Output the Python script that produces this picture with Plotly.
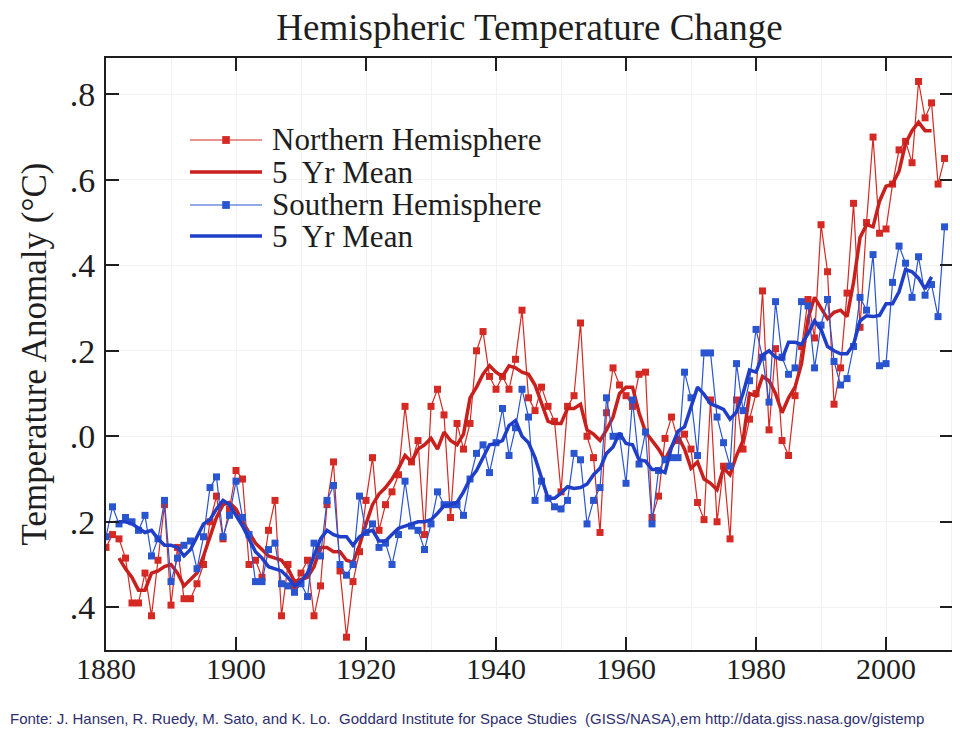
import plotly.graph_objects as go

# ---------------- data ----------------
years = list(range(1880, 2010))

nh_annual = [
    -0.26, -0.23, -0.24, -0.285, -0.39, -0.39, -0.32, -0.42, -0.29, -0.16,      # 1880s
    -0.395, -0.26, -0.38, -0.38, -0.345, -0.30, -0.20, -0.14, -0.24, -0.17,     # 1890s
    -0.08, -0.10, -0.30, -0.29, -0.33, -0.22, -0.15, -0.42, -0.30, -0.35,       # 1900s
    -0.32, -0.29, -0.42, -0.35, -0.16, -0.06, -0.315, -0.47, -0.34, -0.27,      # 1910s
    -0.15, -0.05, -0.22, -0.16, -0.13, -0.09, 0.07, -0.06, -0.01, -0.23,        # 1920s
    0.07, 0.11, 0.05, -0.19, 0.03, -0.03, 0.03, 0.20, 0.245, 0.14,              # 1930s
    0.11, 0.14, 0.11, 0.18, 0.295, 0.09, 0.06, 0.115, 0.07, 0.035,              # 1940s
    -0.13, 0.07, 0.095, 0.265, 0.0, -0.05, -0.225, 0.055, 0.16, 0.12,           # 1950s
    0.095, 0.07, 0.145, 0.15, -0.19, -0.14, -0.005, 0.045, -0.01, 0.005,        # 1960s
    -0.03, -0.155, -0.195, 0.085, -0.20, -0.07, -0.24, 0.085, -0.03, 0.04,      # 1970s
    0.10, 0.34, 0.015, 0.205, -0.01, -0.045, 0.095, 0.21, 0.32, 0.23,           # 1980s
    0.495, 0.385, 0.075, 0.16, 0.335, 0.545, 0.255, 0.50, 0.70, 0.475,          # 1990s
    0.485, 0.59, 0.67, 0.69, 0.64, 0.83, 0.745, 0.78, 0.59, 0.65,               # 2000s
]

sh_annual = [
    -0.235, -0.165, -0.205, -0.19, -0.20, -0.22, -0.185, -0.28, -0.24, -0.15,   # 1880s
    -0.34, -0.285, -0.255, -0.245, -0.31, -0.235, -0.12, -0.095, -0.235, -0.185,# 1890s
    -0.105, -0.19, -0.23, -0.34, -0.34, -0.265, -0.25, -0.345, -0.35, -0.365,   # 1900s
    -0.345, -0.375, -0.25, -0.28, -0.15, -0.115, -0.30, -0.325, -0.30, -0.14,   # 1910s
    -0.225, -0.205, -0.26, -0.25, -0.30, -0.23, -0.105, -0.21, -0.22, -0.265,   # 1920s
    -0.205, -0.13, -0.16, -0.16, -0.16, -0.185, -0.10, -0.04, -0.02, -0.085,    # 1930s
    -0.015, 0.065, -0.045, 0.02, 0.11, 0.045, -0.15, -0.105, -0.145, -0.165,    # 1940s
    -0.17, -0.15, -0.04, -0.055, -0.205, -0.15, -0.12, 0.09, 0.0, 0.0,          # 1950s
    -0.11, 0.085, -0.065, 0.01, -0.205, -0.08, -0.055, -0.05, -0.05, 0.15,      # 1960s
    0.09, -0.045, 0.195, 0.195, 0.045, -0.015, -0.07, 0.17, 0.06, 0.13,         # 1970s
    0.25, 0.185, 0.08, 0.315, 0.185, 0.145, 0.16, 0.315, 0.305, 0.16,           # 1980s
    0.26, 0.32, 0.175, 0.12, 0.135, 0.21, 0.325, 0.295, 0.425, 0.165,           # 1990s
    0.17, 0.36, 0.445, 0.405, 0.325, 0.42, 0.33, 0.355, 0.28, 0.49,             # 2000s
]

mean_years = list(range(1882, 2008))

nh_mean5 = [
    -0.285, -0.31, -0.33, -0.36, -0.36, -0.32, -0.315, -0.305,                  # 1882-1889
    -0.30, -0.32, -0.35, -0.335, -0.32, -0.28, -0.235, -0.19, -0.16, -0.155,    # 1890s
    -0.17, -0.20, -0.225, -0.25, -0.265, -0.28, -0.285, -0.29, -0.31, -0.34,    # 1900s
    -0.335, -0.33, -0.305, -0.26, -0.26, -0.27, -0.27, -0.29, -0.295, -0.255,   # 1910s
    -0.205, -0.16, -0.135, -0.12, -0.10, -0.075, -0.045, -0.06, -0.03, -0.02,   # 1920s
    -0.005, -0.03, 0.01, -0.01, -0.02, 0.005, 0.09, 0.115, 0.145, 0.165,        # 1930s
    0.15, 0.14, 0.165, 0.16, 0.15, 0.145, 0.12, 0.075, 0.035, 0.03,             # 1940s
    0.03, 0.065, 0.065, 0.075, 0.015, 0.005, -0.01, 0.015, 0.045, 0.10,         # 1950s
    0.115, 0.115, 0.055, 0.01, -0.01, -0.03, -0.055, -0.025, 0.0, -0.03,        # 1960s
    -0.075, -0.06, -0.10, -0.11, -0.125, -0.075, -0.09, -0.045, -0.01, 0.10,    # 1970s
    0.095, 0.14, 0.13, 0.10, 0.055, 0.09, 0.115, 0.17, 0.275, 0.325,            # 1980s
    0.30, 0.275, 0.29, 0.295, 0.28, 0.36, 0.465, 0.495, 0.49, 0.55,             # 1990s
    0.585, 0.59, 0.62, 0.685, 0.715, 0.735, 0.715, 0.715,                      # 2000-2007
]

sh_mean5 = [
    -0.20, -0.20, -0.205, -0.215, -0.225, -0.22, -0.24, -0.255,                 # 1882-1889
    -0.255, -0.26, -0.28, -0.265, -0.235, -0.205, -0.195, -0.17, -0.15, -0.16,  # 1890s
    -0.185, -0.21, -0.24, -0.27, -0.285, -0.305, -0.31, -0.315, -0.33, -0.35,   # 1900s
    -0.34, -0.32, -0.28, -0.24, -0.22, -0.23, -0.235, -0.235, -0.255, -0.235,   # 1910s
    -0.225, -0.22, -0.245, -0.245, -0.23, -0.215, -0.21, -0.205, -0.20, -0.20,  # 1920s
    -0.195, -0.18, -0.163, -0.16, -0.155, -0.13, -0.10, -0.08, -0.05, -0.02,    # 1930s
    -0.017, -0.01, 0.025, 0.037, 0.0, -0.015, -0.05, -0.10, -0.145, -0.145,     # 1940s
    -0.133, -0.118, -0.122, -0.12, -0.112, -0.09, -0.075, -0.04, -0.025, 0.008, # 1950s
    -0.017, -0.02, -0.055, -0.058, -0.078, -0.078, -0.085, -0.025, 0.012, 0.022,# 1960s
    0.07, 0.115, 0.098, 0.076, 0.07, 0.063, 0.04, 0.057, 0.10, 0.155,           # 1970s
    0.15, 0.19, 0.20, 0.185, 0.18, 0.22, 0.22, 0.215, 0.24, 0.27,               # 1980s
    0.25, 0.21, 0.20, 0.193, 0.193, 0.215, 0.27, 0.282, 0.28, 0.283,            # 1990s
    0.31, 0.31, 0.338, 0.39, 0.385, 0.37, 0.345, 0.373,                         # 2000-2007
]

x_tick_vals = [1880, 1900, 1920, 1940, 1960, 1980, 2000]
y_tick_vals = [-0.4, -0.2, 0.0, 0.2, 0.4, 0.6, 0.8]
y_tick_text = [".4", ".2", ".0", ".2", ".4", ".6", ".8"]

legend_labels = ["Northern Hemisphere", "5\u00a0 Yr Mean", "Southern Hemisphere", "5\u00a0 Yr Mean"]

title_text = "Hemispheric Temperature Change"
y_title = "Temperature Anomaly (°C)"
source_text = ("Fonte: J. Hansen, R. Ruedy, M. Sato, and K. Lo.  Goddard Institute for Space Studies"
               "  (GISS/NASA),em http://data.giss.nasa.gov/gistemp")

# ---------------- styling ----------------
RED_THIN = "#d42a23"
RED_THICK = "#c8201c"
BLUE_THIN = "#2a55d0"
BLUE_THICK = "#1f3fc8"
SERIF = "Liberation Serif, Times New Roman, serif"
INK = "#1e1e1e"

fig = go.Figure()

fig.add_trace(go.Scatter(
    x=years, y=nh_annual, mode="lines+markers", name=legend_labels[0],
    line=dict(color=RED_THIN, width=1.2),
    marker=dict(symbol="square", size=7, color=RED_THIN),
))
fig.add_trace(go.Scatter(
    x=mean_years, y=nh_mean5, mode="lines", name=legend_labels[1],
    line=dict(color=RED_THICK, width=3.5),
))
fig.add_trace(go.Scatter(
    x=years, y=sh_annual, mode="lines+markers", name=legend_labels[2],
    line=dict(color=BLUE_THIN, width=1.2),
    marker=dict(symbol="square", size=7, color=BLUE_THIN),
))
fig.add_trace(go.Scatter(
    x=mean_years, y=sh_mean5, mode="lines", name=legend_labels[3],
    line=dict(color=BLUE_THICK, width=3.5),
))

# ---- hand-built legend (tight row spacing like the original) ----
leg_x0, leg_x1, leg_tx = 0.0992, 0.1842, 0.1936
leg_rows = [0.8615, 0.8074, 0.7517, 0.6993]
leg_styles = [(RED_THIN, 1.2, True), (RED_THICK, 3.5, False),
              (BLUE_THIN, 1.2, True), (BLUE_THICK, 3.5, False)]
shapes = []
annotations = []
for lbl, yr, (col, w, mk) in zip(legend_labels, leg_rows, leg_styles):
    shapes.append(dict(type="line", xref="paper", yref="paper",
                       x0=leg_x0, x1=leg_x1, y0=yr, y1=yr,
                       line=dict(color=col, width=w)))
    if mk:
        cx = (leg_x0 + leg_x1) / 2
        shapes.append(dict(type="rect", xref="paper", yref="paper",
                           x0=cx - 0.0045, x1=cx + 0.0045, y0=yr - 0.0066, y1=yr + 0.0066,
                           fillcolor=col, line=dict(width=0)))
    annotations.append(dict(text=lbl, xref="paper", yref="paper", x=leg_tx, y=yr,
                            xanchor="left", yanchor="middle", showarrow=False,
                            font=dict(family=SERIF, size=31, color=INK)))

annotations.append(dict(text=source_text, xref="paper", yref="paper",
                        x=-0.1157, y=-0.115, xanchor="left", yanchor="middle",
                        showarrow=False,
                        font=dict(family="Liberation Sans, Arial, sans-serif",
                                  size=15, color="#2e2e6e")))

fig.update_layout(
    width=960, height=736,
    paper_bgcolor="white", plot_bgcolor="white",
    margin=dict(l=98, r=15, t=50, b=94, autoexpand=False),
    title=dict(text=title_text, x=0.5, xref="paper", xanchor="center",
               y=1.0, yref="container", yanchor="top", pad=dict(t=6, b=0),
               font=dict(family=SERIF, size=37, color=INK)),
    showlegend=False,
    shapes=shapes,
    annotations=annotations,
)

fig.update_xaxes(
    range=[1880, 2010.3], tickmode="array", tickvals=x_tick_vals,
    ticks="inside", ticklen=13, tickwidth=2, tickcolor=INK,
    showline=True, linecolor=INK, linewidth=2, mirror="ticks",
    showgrid=True, gridcolor="#f1f1f1", gridwidth=1,
    minor=dict(showgrid=True, gridcolor="#f1f1f1", dtick=10, ticks=""),
    zeroline=False, automargin=False, ticklabelstandoff=-9,
    tickfont=dict(family=SERIF, size=30, color=INK),
)

fig.update_yaxes(
    range=[-0.5, 0.885], tickmode="array", tickvals=y_tick_vals, ticktext=y_tick_text,
    ticks="inside", ticklen=13, tickwidth=2, tickcolor=INK,
    showline=True, linecolor=INK, linewidth=2, mirror="ticks",
    showgrid=True, gridcolor="#f1f1f1", gridwidth=1,
    zeroline=False, automargin=False, ticklabelstandoff=2,
    tickfont=dict(family=SERIF, size=34, color=INK),
    title=dict(text=y_title, standoff=12,
               font=dict(family=SERIF, size=35, color=INK)),
)

fig.write_html("out.html")
